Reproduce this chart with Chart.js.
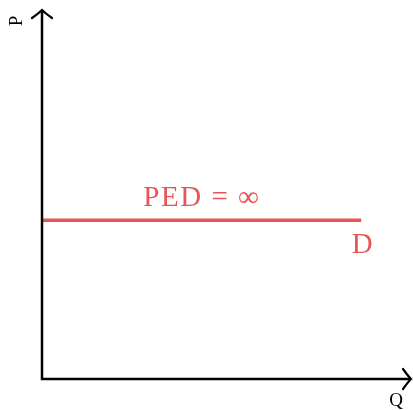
<!DOCTYPE html>
<html>
<head>
<meta charset="utf-8">
<script src="https://cdn.jsdelivr.net/npm/chart.js@4"></script>
<style>
  html, body { margin: 0; padding: 0; background: #fff; }
</style>
</head>
<body>
<canvas id="chart" width="413" height="410"></canvas>
<script>
// perfectly elastic demand curve
const demandX = [0, 8.65];
const demandY = [4.3, 4.3];

// text on the curve
const curveLabels = ['PED = ∞', 'D'];
const curveLabelX = [4.33, 8.7];
const curveLabelY = [4.7, 3.42];

const axisTitles = ['P', 'Q'];

const red = '#e85457';
const serif = '"Liberation Serif", "DejaVu Serif", serif';

// draws the arrowed axes and the text labels
const economicsAxes = {
    id: 'economicsAxes',
    afterDatasetsDraw(chart) {
        const { ctx, chartArea, scales } = chart;
        const x0 = scales.x.getPixelForValue(0);
        const y0 = scales.y.getPixelForValue(0);
        const top = chartArea.top;
        const right = chartArea.right;

        ctx.save();
        ctx.strokeStyle = '#000';
        ctx.lineWidth = 2.5;
        ctx.lineCap = 'butt';
        ctx.lineJoin = 'miter';

        // axes
        ctx.beginPath();
        ctx.moveTo(x0, top + 1);
        ctx.lineTo(x0, y0);
        ctx.lineTo(right - 1, y0);
        ctx.stroke();

        // arrow heads
        ctx.lineWidth = 2.2;
        ctx.lineCap = 'round';
        ctx.beginPath();
        ctx.moveTo(x0 - 10, top + 8);
        ctx.quadraticCurveTo(x0 - 3, top + 3, x0, top);
        ctx.quadraticCurveTo(x0 + 3, top + 3, x0 + 10, top + 8);
        ctx.stroke();
        ctx.beginPath();
        ctx.moveTo(right - 8, y0 - 10);
        ctx.quadraticCurveTo(right - 3, y0 - 3, right, y0);
        ctx.quadraticCurveTo(right - 3, y0 + 3, right - 8, y0 + 10);
        ctx.stroke();

        // axis titles
        ctx.fillStyle = '#000';
        ctx.font = '19px ' + serif;
        ctx.textAlign = 'center';
        ctx.textBaseline = 'middle';
        ctx.save();
        ctx.translate(17, top + 11);
        ctx.rotate(-Math.PI / 2);
        ctx.fillText(axisTitles[0], 0, 0);
        ctx.restore();
        ctx.textBaseline = 'alphabetic';
        ctx.fillText(axisTitles[1], right - 15, y0 + 27);

        // curve labels
        ctx.fillStyle = red;
        ctx.font = '29px ' + serif;
        ctx.letterSpacing = '1.5px';
        curveLabels.forEach((t, i) => {
            ctx.fillText(t, scales.x.getPixelForValue(curveLabelX[i]), scales.y.getPixelForValue(curveLabelY[i]));
        });
        ctx.restore();
    }
};

new Chart(document.getElementById('chart').getContext('2d'), {
    type: 'scatter',
    data: {
        datasets: [{
            label: 'D',
            data: demandX.map((x, i) => ({ x: x, y: demandY[i] })),
            showLine: true,
            borderColor: red,
            borderWidth: 3.5,
            pointRadius: 0,
            fill: false,
        }],
    },
    options: {
        responsive: false,
        animation: false,
        layout: {
            padding: { left: 42, right: 2, top: 10, bottom: 31 },
        },
        plugins: {
            legend: { display: false },
            tooltip: { enabled: false },
        },
        scales: {
            x: { type: 'linear', min: 0, max: 10, display: false },
            y: { type: 'linear', min: 0, max: 10, display: false },
        },
    },
    plugins: [economicsAxes],
});
</script>
</body>
</html>
